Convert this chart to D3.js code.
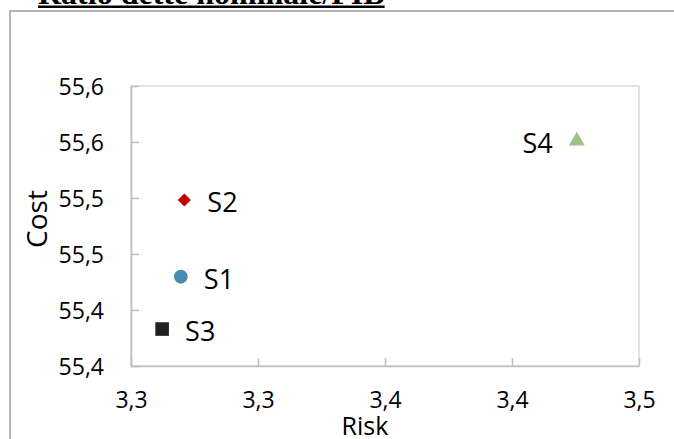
<!DOCTYPE html>
<html>
<head>
<meta charset="utf-8">
<script src="https://cdn.jsdelivr.net/npm/d3@7"></script>
<style>
  html, body { margin: 0; padding: 0; background: #fff; }
  svg { display: block; }
</style>
</head>
<body>
<svg id="chart" width="674" height="439"></svg>
<script>
// ---- data ----
const names  = ["S1", "S2", "S3", "S4"];
const risk   = [3.3157, 3.3168, 3.3098, 3.4404];
const cost   = [55.4297, 55.4982, 55.3830, 55.5510];
const shapes = ["circle", "diamond", "square", "triangle"];
const colors = ["#4a8ab0", "#c00000", "#231f20", "#9cc286"];
const labelSide = ["right", "right", "right", "left"];

const xTicks = [3.30, 3.34, 3.38, 3.42, 3.46];
const xTickLabels = ["3,3", "3,3", "3,4", "3,4", "3,5"];
const yTicks = [55.35, 55.40, 55.45, 55.50, 55.55, 55.60];
const yTickLabels = ["55,4", "55,4", "55,5", "55,5", "55,6", "55,6"];

const title = "Ratio dette nominale/PIB";
const xTitle = "Risk";
const yTitle = "Cost";

// ---- layout ----
const svg = d3.select("#chart");
const plot = { left: 131, top: 86, right: 639, bottom: 366 };
const font = "'Open Sans', 'Noto Sans', sans-serif";

// outer chart border (top + left visible)
svg.append("rect")
  .attr("x", 10).attr("y", 11)
  .attr("width", 700).attr("height", 500)
  .attr("fill", "none").attr("stroke", "#b4b4b4").attr("stroke-width", 2);

// title (cut off at top) with underline
const t = svg.append("text")
  .attr("x", 38).attr("y", 4)
  .attr("font-family", "'Liberation Serif', 'Times New Roman', serif")
  .attr("font-weight", "bold").attr("font-size", 32)
  .attr("fill", "#000")
  .text(title);
const tw = t.node().getComputedTextLength();
svg.append("rect").attr("x", 38).attr("y", 5.5).attr("width", tw).attr("height", 2.5).attr("fill", "#000");

const x = d3.scaleLinear().domain([xTicks[0], xTicks[xTicks.length - 1]]).range([plot.left, plot.right]);
const y = d3.scaleLinear().domain([yTicks[0], yTicks[yTicks.length - 1]]).range([plot.bottom, plot.top]);

// plot frame
svg.append("rect")
  .attr("x", plot.left).attr("y", plot.top)
  .attr("width", plot.right - plot.left).attr("height", plot.bottom - plot.top)
  .attr("fill", "none").attr("stroke", "#d9d9d9").attr("stroke-width", 1.5);

// axes
const xAxis = d3.axisBottom(x).tickValues(xTicks)
  .tickFormat((d, i) => xTickLabels[i]).tickSizeInner(-8).tickSizeOuter(0).tickPadding(26);
const yAxis = d3.axisLeft(y).tickValues(yTicks)
  .tickFormat((d, i) => yTickLabels[i]).tickSizeInner(-8).tickSizeOuter(0).tickPadding(27);

const gx = svg.append("g").attr("transform", `translate(0,${plot.bottom})`).call(xAxis);
const gy = svg.append("g").attr("transform", `translate(${plot.left},0)`).call(yAxis);

[gx, gy].forEach(g => {
  g.select(".domain").attr("stroke", "#bfbfbf").attr("stroke-width", 1.5);
  g.selectAll(".tick line").attr("stroke", "#bfbfbf").attr("stroke-width", 1.5);
  g.selectAll(".tick text").attr("font-family", font).attr("font-size", 23).attr("fill", "#000");
});
gy.selectAll(".tick text").attr("dy", "0.36em");
gx.selectAll(".tick text").attr("dy", "0.71em");

// axis titles
svg.append("text")
  .attr("x", 365).attr("y", 435)
  .attr("text-anchor", "middle")
  .attr("font-family", font).attr("font-size", 25).attr("fill", "#000")
  .text(xTitle);
svg.append("text")
  .attr("transform", "translate(47,219) rotate(-90)")
  .attr("text-anchor", "middle")
  .attr("font-family", font).attr("font-size", 28).attr("fill", "#000")
  .text(yTitle);

// markers
const symType = { circle: d3.symbolCircle, diamond: d3.symbolSquare, square: d3.symbolSquare, triangle: d3.symbolTriangle };
const symSize = { circle: 150, diamond: 85, square: 185, triangle: 110 };
const symRot = { circle: 0, diamond: 45, square: 0, triangle: 0 };
names.forEach((n, i) => {
  const px = x(risk[i]), py = y(cost[i]);
  svg.append("path")
    .attr("d", d3.symbol().type(symType[shapes[i]]).size(symSize[shapes[i]])())
    .attr("transform", `translate(${px},${py}) rotate(${symRot[shapes[i]]})`)
    .attr("fill", colors[i]);
  const right = labelSide[i] === "right";
  svg.append("text")
    .attr("x", right ? px + 23 : px - 24)
    .attr("y", py + 12)
    .attr("text-anchor", right ? "start" : "end")
    .attr("font-family", font).attr("font-size", 27).attr("fill", "#000")
    .text(n);
});
</script>
</body>
</html>
